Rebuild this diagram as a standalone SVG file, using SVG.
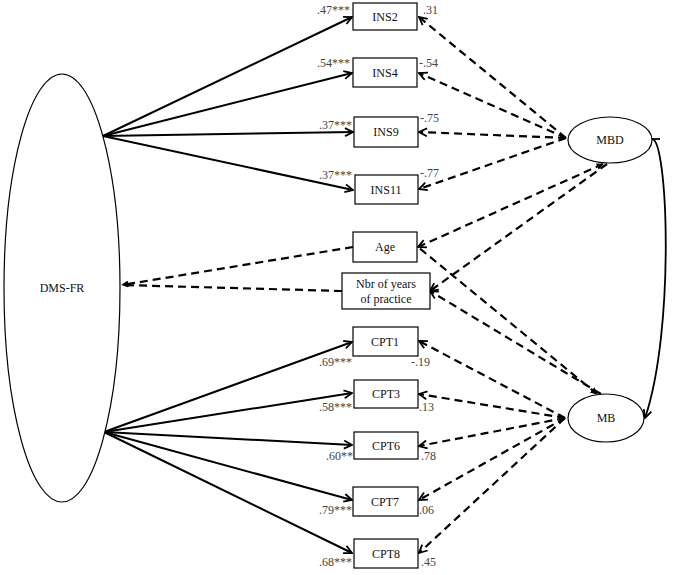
<svg xmlns="http://www.w3.org/2000/svg" width="677" height="575" viewBox="0 0 677 575" font-family="'Liberation Serif', 'DejaVu Serif', serif">
<style>
.box{fill:#fff;stroke:#000;stroke-width:1.2}
.ell{fill:#fff;stroke:#000;stroke-width:1.2}
.t{font-family:'Liberation Serif','DejaVu Serif',serif;font-size:12px;fill:#111;text-anchor:middle}
.lab{font-family:'Liberation Serif','DejaVu Serif',serif;font-size:12px;fill:#444}
.solid{fill:none;stroke:#000;stroke-width:2}
.dash{fill:none;stroke:#000;stroke-width:2.2;stroke-dasharray:8 5}
</style>
<defs>
<marker id="open" viewBox="0 0 10 10" refX="9" refY="5" markerWidth="10" markerHeight="10" markerUnits="userSpaceOnUse" orient="auto-start-reverse">
<path d="M1,1 L9,5 L1,9" fill="none" stroke="#000" stroke-width="1.8"/>
</marker>
<marker id="fill" viewBox="0 0 10 10" refX="9" refY="5" markerWidth="7" markerHeight="7" markerUnits="userSpaceOnUse" orient="auto-start-reverse">
<path d="M0,0 L10,5 L0,10 z" fill="#000"/>
</marker>
</defs>
<g id="connectors">
<path class="solid" d="M103,136 L352,17" marker-end="url(#open)"/>
<path class="solid" d="M103,136 L352,73" marker-end="url(#open)"/>
<path class="solid" d="M103,136 L353,132" marker-end="url(#open)"/>
<path class="solid" d="M103,136 L353,190" marker-end="url(#open)"/>
<path class="solid" d="M104,432 L352,342" marker-end="url(#open)"/>
<path class="solid" d="M104,432 L352,393" marker-end="url(#open)"/>
<path class="solid" d="M104,432 L352,445" marker-end="url(#open)"/>
<path class="solid" d="M104,432 L352,500" marker-end="url(#open)"/>
<path class="solid" d="M104,432 L352,553" marker-end="url(#open)"/>
<path class="dash" d="M566,138 L419,17" marker-end="url(#open)"/>
<path class="dash" d="M566,138 L419,73" marker-end="url(#open)"/>
<path class="dash" d="M566,138 L419,132" marker-end="url(#open)" marker-start="url(#fill)"/>
<path class="dash" d="M566,138 L419,189" marker-end="url(#open)"/>
<path class="dash" d="M565,418 L419,341" marker-end="url(#open)"/>
<path class="dash" d="M565,418 L419,394" marker-end="url(#open)" marker-start="url(#fill)"/>
<path class="dash" d="M565,418 L419,446" marker-end="url(#open)"/>
<path class="dash" d="M565,418 L419,500" marker-end="url(#open)"/>
<path class="dash" d="M565,418 L419,553" marker-end="url(#open)"/>
<path class="dash" d="M603,164 L418,247" marker-end="url(#open)" marker-start="url(#fill)"/>
<path class="dash" d="M607,164 L430,291" marker-end="url(#open)"/>
<path class="dash" d="M597,394 L418,247" marker-start="url(#fill)"/>
<path class="dash" d="M601,394 L430,291" marker-end="url(#open)"/>
<path class="dash" d="M353,247 L122,285" marker-end="url(#fill)"/>
<path class="dash" d="M342,291 L122,285"/>
<path d="M652,139 C668,139 675,330 645,418" fill="none" stroke="#000" stroke-width="1.8" marker-end="url(#open)"/>
<path d="M650,139 L660,139" stroke="#000" stroke-width="1.8"/>
</g>
<g id="DMS-FR"><ellipse class="ell" cx="62" cy="288" rx="58" ry="214"/><text class="t" x="62" y="292">DMS-FR</text></g>
<g id="MBD"><ellipse class="ell" cx="610" cy="140" rx="42" ry="23"/><text class="t" x="610" y="144">MBD</text></g>
<g id="MB"><ellipse class="ell" cx="606" cy="418" rx="38" ry="24"/><text class="t" x="606" y="422">MB</text></g>
<g id="INS2"><rect class="box" x="353" y="3" width="64" height="27"/><text class="t" x="385" y="21">INS2</text></g>
<g id="INS4"><rect class="box" x="353" y="58" width="64" height="29"/><text class="t" x="385" y="77">INS4</text></g>
<g id="INS9"><rect class="box" x="354" y="117" width="64" height="30"/><text class="t" x="386" y="136">INS9</text></g>
<g id="INS11"><rect class="box" x="355" y="175" width="63" height="29"/><text class="t" x="386" y="194">INS11</text></g>
<g id="Age"><rect class="box" x="353" y="232" width="64" height="30"/><text class="t" x="385" y="251">Age</text></g>
<g id="Nbr"><rect class="box" x="342" y="273" width="88" height="36"/><text class="t" x="386" y="288">Nbr of years</text><text class="t" x="386" y="303">of practice</text></g>
<g id="CPT1"><rect class="box" x="353" y="327" width="65" height="29"/><text class="t" x="385" y="346">CPT1</text></g>
<g id="CPT3"><rect class="box" x="354" y="380" width="64" height="28"/><text class="t" x="386" y="398">CPT3</text></g>
<g id="CPT6"><rect class="box" x="354" y="432" width="64" height="27"/><text class="t" x="386" y="450">CPT6</text></g>
<g id="CPT7"><rect class="box" x="353" y="487" width="65" height="29"/><text class="t" x="385" y="506">CPT7</text></g>
<g id="CPT8"><rect class="box" x="354" y="539" width="64" height="29"/><text class="t" x="386" y="558">CPT8</text></g>
<g id="labels">
<text class="lab" x="350" y="14" text-anchor="end">.47***</text>
<text class="lab" x="423" y="14">.31</text>
<text class="lab" x="350" y="67" text-anchor="end">.54***</text>
<text class="lab" x="419" y="67">-.54</text>
<text class="lab" x="352" y="129" text-anchor="end">.37***</text>
<text class="lab" x="420" y="122">-.75</text>
<text class="lab" x="352" y="179" text-anchor="end">.37***</text>
<text class="lab" x="420" y="177">-.77</text>
<text class="lab" x="352" y="366" text-anchor="end">.69***</text>
<text class="lab" x="430" y="366" text-anchor="end">-.19</text>
<text class="lab" x="352" y="411" text-anchor="end">.58***</text>
<text class="lab" x="419" y="411">.13</text>
<text class="lab" x="353" y="460" text-anchor="end">.60**</text>
<text class="lab" x="421" y="460">.78</text>
<text class="lab" x="352" y="514" text-anchor="end">.79***</text>
<text class="lab" x="419" y="514">.06</text>
<text class="lab" x="352" y="566" text-anchor="end">.68***</text>
<text class="lab" x="421" y="566">.45</text>
</g>
</svg>
